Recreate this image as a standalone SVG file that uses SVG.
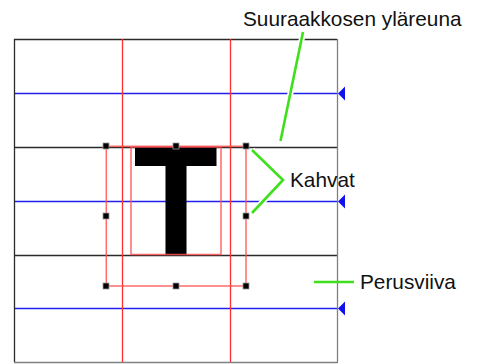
<svg xmlns="http://www.w3.org/2000/svg" width="478" height="364" viewBox="0 0 478 364">
  <style>
    .grid { stroke: #2a2a2a; stroke-width: 1.3; fill: none; }
    .frame2 { stroke: #808080; stroke-width: 1.3; fill: none; }
    .blue { stroke: #2020ee; stroke-width: 1.3; fill: none; }
    .red { stroke: #ff3030; stroke-width: 1.3; fill: none; }
    .pink { stroke: #ff5050; stroke-width: 1.5; fill: none; opacity: 0.85; }
    .handle { fill: #000; stroke: #999; stroke-width: 0.8; }
    .halo { stroke: #fff; stroke-width: 6; fill: none; stroke-linejoin: miter; }
    .lead { stroke: #3ee01c; stroke-width: 2.6; fill: none; stroke-linejoin: miter; }
    .lbl { font-family: "Liberation Sans", Arial, Helvetica, sans-serif; font-size: 20.8px; fill: #111; }
    .tri { fill: #1111ee; }
  </style>
  <rect width="478" height="364" fill="#fff"/>
  <g id="grid">
    <line class="grid" x1="14" y1="39.5" x2="337" y2="39.5"/>
    <line class="grid" x1="14" y1="147.5" x2="337" y2="147.5"/>
    <line class="grid" x1="14" y1="255.5" x2="337" y2="255.5"/>
    <line class="blue" x1="14" y1="93.5" x2="337" y2="93.5"/>
    <line class="blue" x1="14" y1="201.5" x2="337" y2="201.5"/>
    <line class="blue" x1="14" y1="308.5" x2="337" y2="308.5"/>
    <line class="grid" x1="14.5" y1="39" x2="14.5" y2="362"/>
    <line class="frame2" x1="337.5" y1="39" x2="337.5" y2="362"/>
    <line class="frame2" x1="14" y1="362.5" x2="338" y2="362.5"/>
    <line class="red" x1="122.5" y1="39" x2="122.5" y2="362"/>
    <line class="red" x1="230.5" y1="39" x2="230.5" y2="362"/>
  </g>
  <g id="markers">
    <path class="tri" d="M338,93.5 L345,86.5 L345,100.5 Z"/>
    <path class="tri" d="M338,201.5 L345,194.5 L345,208.5 Z"/>
    <path class="tri" d="M338,308.5 L345,301.5 L345,315.5 Z"/>
  </g>
  <g id="glyph">
    <path d="M135,147.5 H216.5 V166 H186.5 V255 H165.5 V166 H135 Z" fill="#000"/>
    <rect class="pink" x="131" y="147" width="90" height="107.5"/>
  </g>
  <g id="bbox">
    <rect class="pink" x="106.3" y="146.3" width="139.7" height="139.7"/>
    <rect class="handle" x="103" y="143" width="6" height="6"/>
    <rect class="handle" x="173" y="143" width="6" height="6"/>
    <rect class="handle" x="243" y="143" width="6" height="6"/>
    <rect class="handle" x="103" y="213" width="6" height="6"/>
    <rect class="handle" x="243" y="213" width="6" height="6"/>
    <rect class="handle" x="103" y="283" width="6" height="6"/>
    <rect class="handle" x="173" y="283" width="6" height="6"/>
    <rect class="handle" x="243" y="283" width="6" height="6"/>
  </g>
  <g id="connectors">
    <line class="halo" x1="303" y1="33" x2="280.5" y2="141"/>
    <polyline class="halo" points="252,150 283,180 252,213"/>
    <line class="lead" x1="303" y1="32" x2="280.5" y2="141"/>
    <polyline class="lead" points="252,150 283,180 252,213"/>
    <line class="lead" x1="314" y1="282" x2="354" y2="282"/>
  </g>
  <g id="label-cap">
    <text class="lbl" x="243" y="26">Suuraakkosen yläreuna</text>
  </g>
  <g id="label-handles">
    <text class="lbl" x="290" y="187">Kahvat</text>
  </g>
  <g id="label-baseline">
    <text class="lbl" x="360" y="289">Perusviiva</text>
  </g>
</svg>
